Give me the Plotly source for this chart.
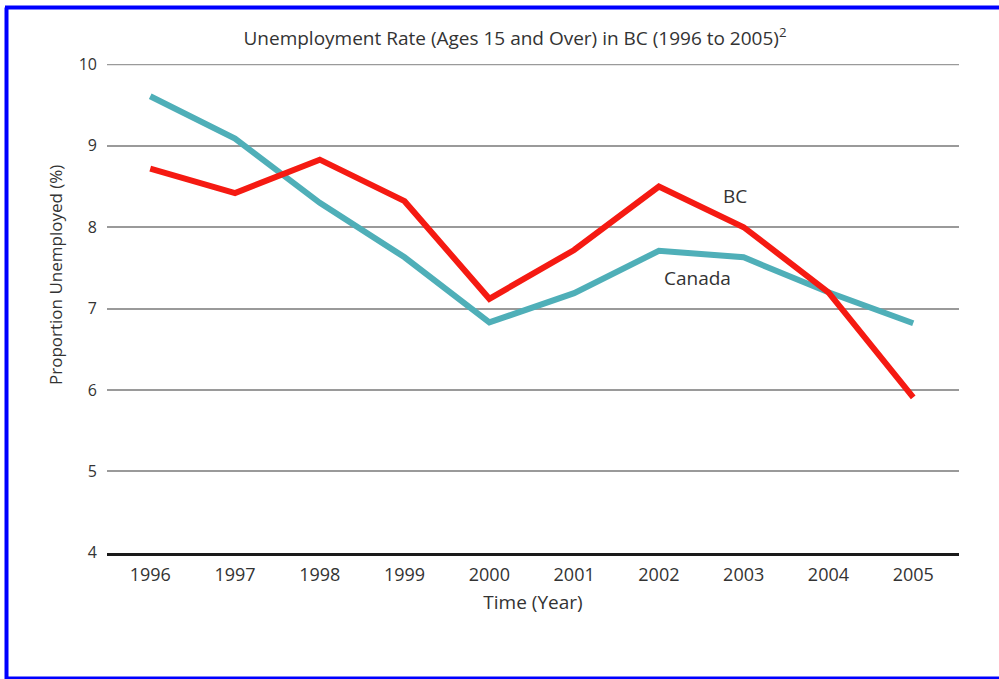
import plotly.graph_objects as go

years = [1996, 1997, 1998, 1999, 2000, 2001, 2002, 2003, 2004, 2005]
bc = [8.72, 8.42, 8.83, 8.32, 7.12, 7.72, 8.50, 8.00, 7.20, 5.91]
canada = [9.61, 9.09, 8.30, 7.63, 6.83, 7.19, 7.71, 7.63, 7.20, 6.82]
y_ticks = [4, 5, 6, 7, 8, 9, 10]

FONT = "Open Sans"
W, H = 999, 679
L, R, T, B = 107, 40, 64, 126
pw, ph = W - L - R, H - T - B

def px(x):
    return (x - L) / pw

def py(y):
    return (H - B - y) / ph

fig = go.Figure()
fig.add_trace(go.Scatter(x=years, y=canada, mode="lines", name="Canada",
                         line=dict(color="#4FAFB8", width=6)))
fig.add_trace(go.Scatter(x=years, y=bc, mode="lines", name="BC",
                         line=dict(color="#F51A12", width=6)))

fig.add_annotation(x=2002.9, y=8.38, text="BC", showarrow=False,
                   font=dict(family=FONT, size=19, color="#333333"))
fig.add_annotation(x=2002.45, y=7.37, text="Canada", showarrow=False,
                   font=dict(family=FONT, size=19, color="#333333"))

# y-axis title (placed off-centre like the reference)
fig.add_annotation(xref="paper", yref="paper", x=px(55), y=py(275),
                   xanchor="center", yanchor="middle",
                   text="Proportion Unemployed (%)", textangle=-90, showarrow=False,
                   font=dict(family=FONT, size=17, color="#333333"))

# top gridline at 10 (plotly drops gridline at range edge)
fig.add_shape(type="line", xref="paper", yref="y", x0=0, x1=1, y0=10, y1=10,
              line=dict(color="#9a9a9a", width=1.5), layer="below")

blue = "#0000FF"
fig.add_shape(type="line", xref="paper", yref="paper", x0=px(6.5), x1=px(6.5),
              y0=py(7.5), y1=py(680), line=dict(color=blue, width=4))
fig.add_shape(type="line", xref="paper", yref="paper", x0=px(5), x1=px(1005),
              y0=py(7.5), y1=py(7.5), line=dict(color=blue, width=4))
fig.add_shape(type="line", xref="paper", yref="paper", x0=px(5), x1=px(1005),
              y0=py(678), y1=py(678), line=dict(color=blue, width=3))

fig.update_layout(
    width=W, height=H,
    margin=dict(l=L, r=R, t=T, b=B),
    paper_bgcolor="white", plot_bgcolor="white",
    showlegend=False,
    font=dict(family=FONT, color="#333333"),
    title=dict(text="Unemployment Rate (Ages 15 and Over) in BC (1996 to 2005)<sup>2</sup>",
               xref="container", yref="container",
               x=515 / W, xanchor="center", y=1 - 38 / H, yanchor="middle",
               font=dict(family=FONT, size=19, color="#333333")),
    xaxis=dict(range=[1995.49, 2005.54], tickmode="array", tickvals=years,
               ticktext=[str(y) for y in years], showgrid=False, zeroline=False,
               showline=True, linecolor="#1a1a1a", linewidth=3,
               ticks="", ticklabelstandoff=3,
               tickfont=dict(family=FONT, size=18, color="#333333"),
               title=dict(text="Time (Year)", standoff=12,
                          font=dict(family=FONT, size=19, color="#333333"))),
    yaxis=dict(range=[3.996, 10.006], tickmode="array", tickvals=y_ticks,
               showgrid=True, gridcolor="#9a9a9a", gridwidth=1.5, zeroline=False,
               showline=False, ticks="", ticklabelstandoff=9,
               tickfont=dict(family=FONT, size=16, color="#333333")),
)

fig.write_html("out.html")
